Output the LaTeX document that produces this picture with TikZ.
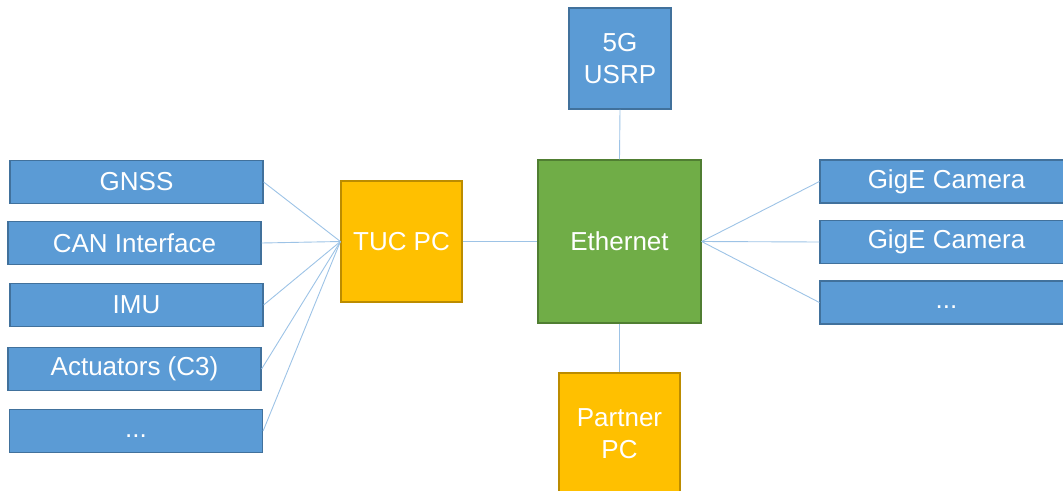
\documentclass[tikz,border=0pt]{standalone}
\usepackage{fontspec}
\setmainfont{Liberation Sans}
\definecolor{bluefill}{HTML}{5B9BD5}
\definecolor{blueedge}{HTML}{41719C}
\definecolor{greenfill}{HTML}{70AD47}
\definecolor{greenedge}{HTML}{507E32}
\definecolor{orangefill}{HTML}{FFC000}
\definecolor{orangeedge}{HTML}{BC8C00}
\definecolor{linkcol}{HTML}{9DC3E6}
\tikzset{
  box/.style={draw, line width=1.2pt, text=white, inner sep=0pt, align=center,
    font=\fontsize{26}{32}\selectfont},
  bluebox/.style={box, fill=bluefill, draw=blueedge},
  greenbox/.style={box, fill=greenfill, draw=greenedge},
  orangebox/.style={box, fill=orangefill, draw=orangeedge},
  wide/.style={minimum width=253pt, minimum height=43pt},
  link/.style={draw=linkcol, line width=0.9pt}
}
\begin{document}
\begin{tikzpicture}[x=1pt,y=-1pt]
  \useasboundingbox (0,0) rectangle (1063,490);
  \clip (0,0) rectangle (1063,490);

  % sensors and actuators on the left
  \node[bluebox, wide] (gnss) at (136.5,182) {GNSS};
  \node[bluebox, wide] (can)  at (134.5,243) {CAN Interface};
  \node[bluebox, wide] (imu)  at (136.5,305) {IMU};
  \node[bluebox, wide] (act)  at (134.5,369) {Actuators (C3)};
  \node[bluebox, wide] (lmore) at (136,431) {\vphantom{Ag}...};

  % computers and switch
  \node[orangebox, minimum width=121pt, minimum height=121pt] (tuc) at (401.5,241.5) {TUC PC};
  \node[greenbox, minimum width=163pt, minimum height=163pt] (eth) at (619.5,241.5) {Ethernet};
  \node[bluebox, minimum width=102pt, minimum height=101pt] (usrp) at (620,58.5) {5G\\USRP};
  \node[orangebox, minimum width=121pt, minimum height=122pt] (partner) at (619.5,434) {Partner\\PC};

  % cameras on the right
  \node[bluebox, wide] (cam1) at (946.5,181.5) {GigE Camera};
  \node[bluebox, wide] (cam2) at (946.5,242) {GigE Camera};
  \node[bluebox, wide] (rmore) at (946.5,302.5) {\vphantom{Ag}...};

  % connections
  \foreach \n in {gnss,can,imu,act,lmore}
    \draw[link] (\n.east) -- (tuc.west);
  \foreach \n in {cam1,cam2,rmore}
    \draw[link] (eth.east) -- (\n.west);
  \draw[link] (tuc.east) -- (eth.west);
  \draw[link] (usrp.south) -- (eth.north);
  \draw[link] (eth.south) -- (partner.north);
\end{tikzpicture}
\end{document}
